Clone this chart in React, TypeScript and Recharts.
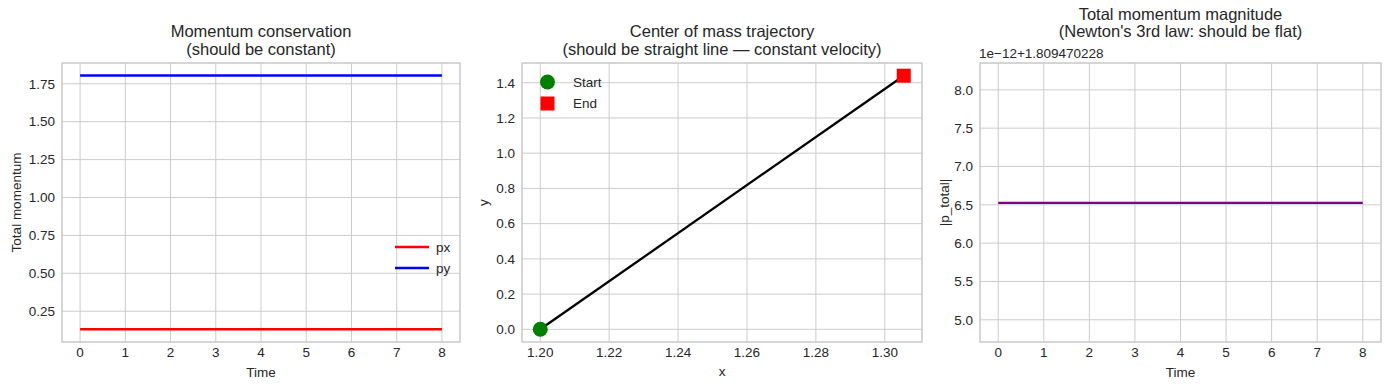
import React from 'react';
import { LineChart, ComposedChart, Line, XAxis, YAxis, CartesianGrid, ReferenceDot } from 'recharts';

// ---------- data ----------
const timeValues = [0, 1, 2, 3, 4, 5, 6, 7, 8];
const pxValues = [0.131, 0.131, 0.131, 0.131, 0.131, 0.131, 0.131, 0.131, 0.131];
const pyValues = [1.8047, 1.8047, 1.8047, 1.8047, 1.8047, 1.8047, 1.8047, 1.8047, 1.8047];
// |p_total| expressed as offset in units of 1e-12 over 1.809470228
const pMagOffset = [6.525, 6.525, 6.525, 6.525, 6.525, 6.525, 6.525, 6.525, 6.525];

const comX = [1.2, 1.3055];
const comY = [0.0, 1.44];

const timeTicks = [0, 1, 2, 3, 4, 5, 6, 7, 8];
const momTicks = [0.25, 0.5, 0.75, 1.0, 1.25, 1.5, 1.75];
const comXTicks = [1.2, 1.22, 1.24, 1.26, 1.28, 1.3];
const comYTicks = [0, 0.2, 0.4, 0.6, 0.8, 1.0, 1.2, 1.4];
const magTicks = [5.0, 5.5, 6.0, 6.5, 7.0, 7.5, 8.0];

const momData = timeValues.map((t, i) => ({ t, px: pxValues[i], py: pyValues[i] }));
const comData = comX.map((x, i) => ({ x, y: comY[i] }));
const magData = timeValues.map((t, i) => ({ t, p: pMagOffset[i] }));

// ---------- style ----------
const FONT = '"Liberation Sans", Arial, Helvetica, sans-serif';
const TXT = '#262626';
const GRID = '#cccccc';
const tickStyle = { fill: TXT, fontSize: 13.5, fontFamily: FONT };

const StartMarker = (props: any) => (
  <circle cx={props.cx} cy={props.cy} r={7.5} fill="green" />
);
const EndMarker = (props: any) => (
  <rect x={props.cx - 7} y={props.cy - 7} width={14} height={14} fill="red" />
);

export default function App() {
  return (
    <div style={{ position: 'absolute', left: 0, top: 0, width: 1389, height: 390, background: '#fff', fontFamily: FONT }}>
      {/* Panel 1 */}
      <div style={{ position: 'absolute', left: 0, top: 0 }}>
        <LineChart width={470} height={390} data={momData} margin={{ top: 63, right: 10, bottom: 0, left: 0 }}>
          <CartesianGrid stroke={GRID} strokeWidth={1} />
          <XAxis dataKey="t" type="number" domain={[-0.4, 8.4]} ticks={timeTicks} interval={0}
            tickLine={false} axisLine={false} tickSize={0} tickMargin={5} height={48} tick={tickStyle} allowDataOverflow />
          <YAxis type="number" domain={[0.047, 1.887]} ticks={momTicks} interval={0} width={62}
            tickLine={false} axisLine={false} tickSize={0} tickMargin={7} tick={tickStyle} allowDataOverflow
            tickFormatter={(v: number) => v.toFixed(2)} />
          <Line dataKey="px" stroke="red" strokeWidth={2.5} dot={false} isAnimationActive={false} />
          <Line dataKey="py" stroke="blue" strokeWidth={2.5} dot={false} isAnimationActive={false} />
        </LineChart>
      </div>

      {/* Panel 2 */}
      <div style={{ position: 'absolute', left: 470, top: 0 }}>
        <ComposedChart width={462} height={390} data={comData} margin={{ top: 63, right: 10, bottom: 0, left: 0 }}>
          <CartesianGrid stroke={GRID} strokeWidth={1} />
          <XAxis dataKey="x" type="number" domain={[1.1947, 1.3108]} ticks={comXTicks} interval={0}
            tickLine={false} axisLine={false} tickSize={0} tickMargin={5} height={48} tick={tickStyle} allowDataOverflow
            tickFormatter={(v: number) => v.toFixed(2)} />
          <YAxis type="number" domain={[-0.072, 1.512]} ticks={comYTicks} interval={0} width={52}
            tickLine={false} axisLine={false} tickSize={0} tickMargin={7} tick={tickStyle} allowDataOverflow
            tickFormatter={(v: number) => v.toFixed(1)} />
          <Line dataKey="y" stroke="black" strokeWidth={2.3} dot={false} isAnimationActive={false} />
          <ReferenceDot x={comX[0]} y={comY[0]} ifOverflow="visible" shape={StartMarker} />
          <ReferenceDot x={comX[1]} y={comY[1]} ifOverflow="visible" shape={EndMarker} />
        </ComposedChart>
      </div>

      {/* Panel 3 */}
      <div style={{ position: 'absolute', left: 930, top: 0 }}>
        <LineChart width={459} height={390} data={magData} margin={{ top: 63, right: 8, bottom: 0, left: 0 }}>
          <CartesianGrid stroke={GRID} strokeWidth={1} />
          <XAxis dataKey="t" type="number" domain={[-0.4, 8.4]} ticks={timeTicks} interval={0}
            tickLine={false} axisLine={false} tickSize={0} tickMargin={5} height={48} tick={tickStyle} allowDataOverflow />
          <YAxis type="number" domain={[4.71, 8.35]} ticks={magTicks} interval={0} width={50}
            tickLine={false} axisLine={false} tickSize={0} tickMargin={7} tick={tickStyle} allowDataOverflow
            tickFormatter={(v: number) => v.toFixed(1)} />
          <Line dataKey="p" stroke="purple" strokeWidth={2.2} dot={false} isAnimationActive={false} />
        </LineChart>
      </div>

      {/* Overlay: frames, titles, labels, legends */}
      <svg width={1389} height={390} style={{ position: 'absolute', left: 0, top: 0, pointerEvents: 'none' }}
        fontFamily={FONT} fill={TXT}>
        <rect x={62} y={63} width={398} height={279} fill="none" stroke={GRID} strokeWidth={1.25} />
        <rect x={522} y={63} width={400} height={279} fill="none" stroke={GRID} strokeWidth={1.25} />
        <rect x={980} y={63} width={401} height={279} fill="none" stroke={GRID} strokeWidth={1.25} />

        {/* titles */}
        <text x={261} y={37} fontSize={16.5} textAnchor="middle">Momentum conservation</text>
        <text x={261} y={54.5} fontSize={16.5} textAnchor="middle">(should be constant)</text>
        <text x={722} y={37} fontSize={16.5} textAnchor="middle">Center of mass trajectory</text>
        <text x={722} y={54.5} fontSize={16.5} textAnchor="middle">(should be straight line — constant velocity)</text>
        <text x={1180.5} y={19.5} fontSize={16.5} textAnchor="middle">Total momentum magnitude</text>
        <text x={1180.5} y={37} fontSize={16.5} textAnchor="middle">(Newton's 3rd law: should be flat)</text>
        <text x={979} y={58} fontSize={13.5}>1e−12+1.809470228</text>

        {/* x labels */}
        <text x={261} y={377} fontSize={13.5} textAnchor="middle">Time</text>
        <text x={722} y={376} fontSize={13.5} textAnchor="middle">x</text>
        <text x={1180.5} y={377} fontSize={13.5} textAnchor="middle">Time</text>

        {/* y labels */}
        <text transform="translate(21,202.5) rotate(-90)" fontSize={13.5} textAnchor="middle">Total momentum</text>
        <text transform="translate(488,202.5) rotate(-90)" fontSize={13.5} textAnchor="middle">y</text>
        <text transform="translate(949,202.5) rotate(-90)" fontSize={13.5} textAnchor="middle">|p_total|</text>

        {/* legend panel 1 */}
        <line x1={395} y1={247} x2={429} y2={247} stroke="red" strokeWidth={2.5} />
        <text x={436} y={252} fontSize={13.5}>px</text>
        <line x1={395} y1={268} x2={429} y2={268} stroke="blue" strokeWidth={2.5} />
        <text x={436} y={273} fontSize={13.5}>py</text>

        {/* legend panel 2 */}
        <circle cx={547.5} cy={82} r={7.5} fill="green" />
        <text x={573} y={87} fontSize={13.5}>Start</text>
        <rect x={540.5} y={96.5} width={14} height={14} fill="red" />
        <text x={573} y={108} fontSize={13.5}>End</text>
      </svg>
    </div>
  );
}
